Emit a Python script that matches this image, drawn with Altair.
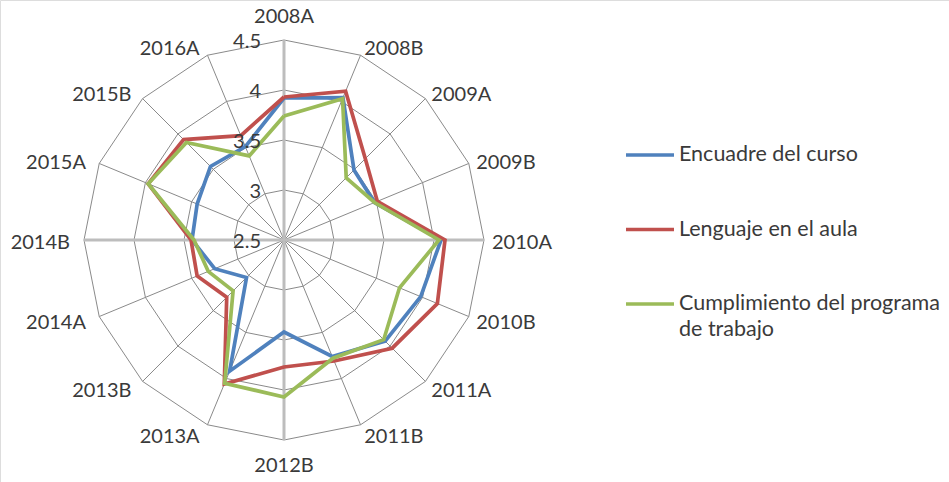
import altair as alt
import pandas as pd

# Semesters around the radar, clockwise from the top
categories = ["2008A", "2008B", "2009A", "2009B", "2010A", "2010B", "2011A", "2011B",
              "2012B", "2013A", "2013B", "2014A", "2014B", "2015A", "2015B", "2016A"]

series_names = ["Encuadre del curso", "Lenguaje en el aula",
                "Cumplimiento del programa de trabajo"]
legend_third_lines = ["Cumplimiento del programa", "de trabajo"]

encuadre = [3.92, 4.04, 3.49, 3.48, 4.07, 3.98, 3.93, 3.76,
            3.42, 3.92, 3.03, 3.25, 3.42, 3.44, 3.54, 3.51]
lenguaje = [3.93, 4.11, 3.65, 3.51, 4.11, 4.16, 4.03, 3.81,
            3.77, 4.06, 3.31, 3.44, 3.43, 3.97, 3.92, 3.63]
cumplimiento = [3.74, 4.03, 3.38, 3.48, 4.05, 3.75, 3.91, 3.78,
                4.07, 4.05, 3.22, 3.32, 3.40, 3.97, 3.88, 3.41]

series_colors = ["#4F81BD", "#C0504D", "#9BBB59"]

tick_values = [2.5, 3.0, 3.5, 4.0, 4.5]
tick_labels = ["2.5", "3", "3.5", "4", "4.5"]

R_MIN, R_MAX = 2.5, 4.5
N = len(categories)
FONT = "Lato"
TEXT_COLOR = "#3A3A3A"

# ---- tables -------------------------------------------------------------
series_rows = []
for name, vals in zip(series_names, [encuadre, lenguaje, cumplimiento]):
    for step in range(N + 1):  # repeat the first point to close the polygon
        k = step % N
        series_rows.append({"series": name, "step": step,
                            "category": categories[k], "value": vals[k]})
series_df = pd.DataFrame(series_rows)

ring_rows = []
for lvl in tick_values[1:]:
    for step in range(N + 1):
        ring_rows.append({"level": lvl, "step": step})
ring_df = pd.DataFrame(ring_rows)

spoke_df = pd.DataFrame({"step": list(range(N)), "category": categories})
tick_df = pd.DataFrame({"value": tick_values, "label": tick_labels})

# shared linear scales: 1 data unit = 100 px in both directions
xscale = alt.Scale(domain=[-2.84, 6.65], nice=False, zero=False)
yscale = alt.Scale(domain=[-2.42, 2.40], nice=False, zero=False)

theta = f"datum.step * 2 * PI / {N}"


def polar(chart, value_field):
    r = f"({value_field} - {R_MIN})"
    return chart.transform_calculate(
        theta=theta
    ).transform_calculate(
        px=f"{r} * sin(datum.theta)",
        py=f"{r} * cos(datum.theta)",
    )


# ---- grid rings ---------------------------------------------------------
rings = polar(alt.Chart(ring_df), "datum.level").mark_line(
    color="#8A8A8A", strokeWidth=1
).encode(
    x=alt.X("px:Q", scale=xscale, axis=None),
    y=alt.Y("py:Q", scale=yscale, axis=None),
    detail="level:N",
    order="step:Q",
)

# ---- spokes -------------------------------------------------------------
spoke_base = alt.Chart(spoke_df).transform_calculate(
    theta=theta
).transform_calculate(
    x0="0", y0="0",
    sx=f"{R_MAX - R_MIN} * sin(datum.theta)",
    sy=f"{R_MAX - R_MIN} * cos(datum.theta)",
)
spoke_enc = dict(
    x=alt.X("x0:Q", scale=xscale, axis=None),
    y=alt.Y("y0:Q", scale=yscale, axis=None),
    x2="sx:Q",
    y2="sy:Q",
)
thin_spokes = spoke_base.transform_filter(f"datum.step % {N // 4} != 0").mark_rule(
    color="#8A8A8A", strokeWidth=1
).encode(**spoke_enc)
main_axes = spoke_base.transform_filter(f"datum.step % {N // 4} == 0").mark_rule(
    color="#BDBDBD", strokeWidth=3
).encode(**spoke_enc)

# ---- value tick labels --------------------------------------------------
ticks = alt.Chart(tick_df).transform_calculate(
    x0="0", ty=f"datum.value - {R_MIN}"
).mark_text(
    align="right", baseline="middle", dx=-23, dy=2,
    font=FONT, fontSize=20, color=TEXT_COLOR
).encode(
    x=alt.X("x0:Q", scale=xscale, axis=None),
    y=alt.Y("ty:Q", scale=yscale, axis=None),
    text="label:N",
)

# ---- category labels ----------------------------------------------------
label_base = alt.Chart(spoke_df).transform_calculate(
    theta=theta
).transform_calculate(
    s="sin(datum.theta)", c="cos(datum.theta)"
).transform_calculate(
    lx=f"{R_MAX - R_MIN} * datum.s + (datum.s > 0.01 ? 0.01 + 0.07 * datum.s"
       f" : (datum.s < -0.01 ? -0.04 + 0.10 * datum.s : 0))",
    ly=f"{R_MAX - R_MIN} * datum.c + (abs(datum.s) < 0.01 ? (datum.c > 0 ? 0.23 : -0.26)"
       f" : (-0.03 + 0.10 * datum.c))",
)
label_enc = dict(
    x=alt.X("lx:Q", scale=xscale, axis=None),
    y=alt.Y("ly:Q", scale=yscale, axis=None),
    text="category:N",
)
label_style = dict(baseline="middle", font=FONT, fontSize=20, color=TEXT_COLOR)
labels_right = label_base.transform_filter("datum.s > 0.01").mark_text(
    align="left", **label_style).encode(**label_enc)
labels_left = label_base.transform_filter("datum.s < -0.01").mark_text(
    align="right", **label_style).encode(**label_enc)
labels_mid = label_base.transform_filter("abs(datum.s) <= 0.01").mark_text(
    align="center", **label_style).encode(**label_enc)

# ---- data series --------------------------------------------------------
label_expr = (f"datum.label == '{series_names[2]}' ? "
              f"['{legend_third_lines[0]}', '{legend_third_lines[1]}'] : datum.label")

lines = polar(alt.Chart(series_df), "datum.value").mark_line(
    strokeWidth=3.7, strokeJoin="miter"
).encode(
    x=alt.X("px:Q", scale=xscale, axis=None),
    y=alt.Y("py:Q", scale=yscale, axis=None),
    color=alt.Color(
        "series:N",
        scale=alt.Scale(domain=series_names, range=series_colors),
        sort=series_names,
        legend=alt.Legend(
            title=None, orient="none", legendX=624, legendY=129,
            direction="vertical", symbolType="stroke", symbolSize=2304,
            symbolStrokeWidth=3.5, labelFont=FONT, labelFontSize=21.5,
            labelColor=TEXT_COLOR, labelLimit=600, labelOffset=3,
            rowPadding=37.5, padding=0, labelExpr=label_expr,
        ),
    ),
    order="step:Q",
)

chart = alt.layer(
    rings, thin_spokes, main_axes, lines, ticks, labels_right, labels_left, labels_mid
).properties(
    width=949, height=482,
    autosize=alt.AutoSizeParams(type="none"),
    padding=0,
    background="white",
).configure_view(
    stroke=None
).configure(
    style={"guide-label": {"lineHeight": 26}}
)

chart.save("out.html", embed_options={"renderer": "svg", "actions": False})
